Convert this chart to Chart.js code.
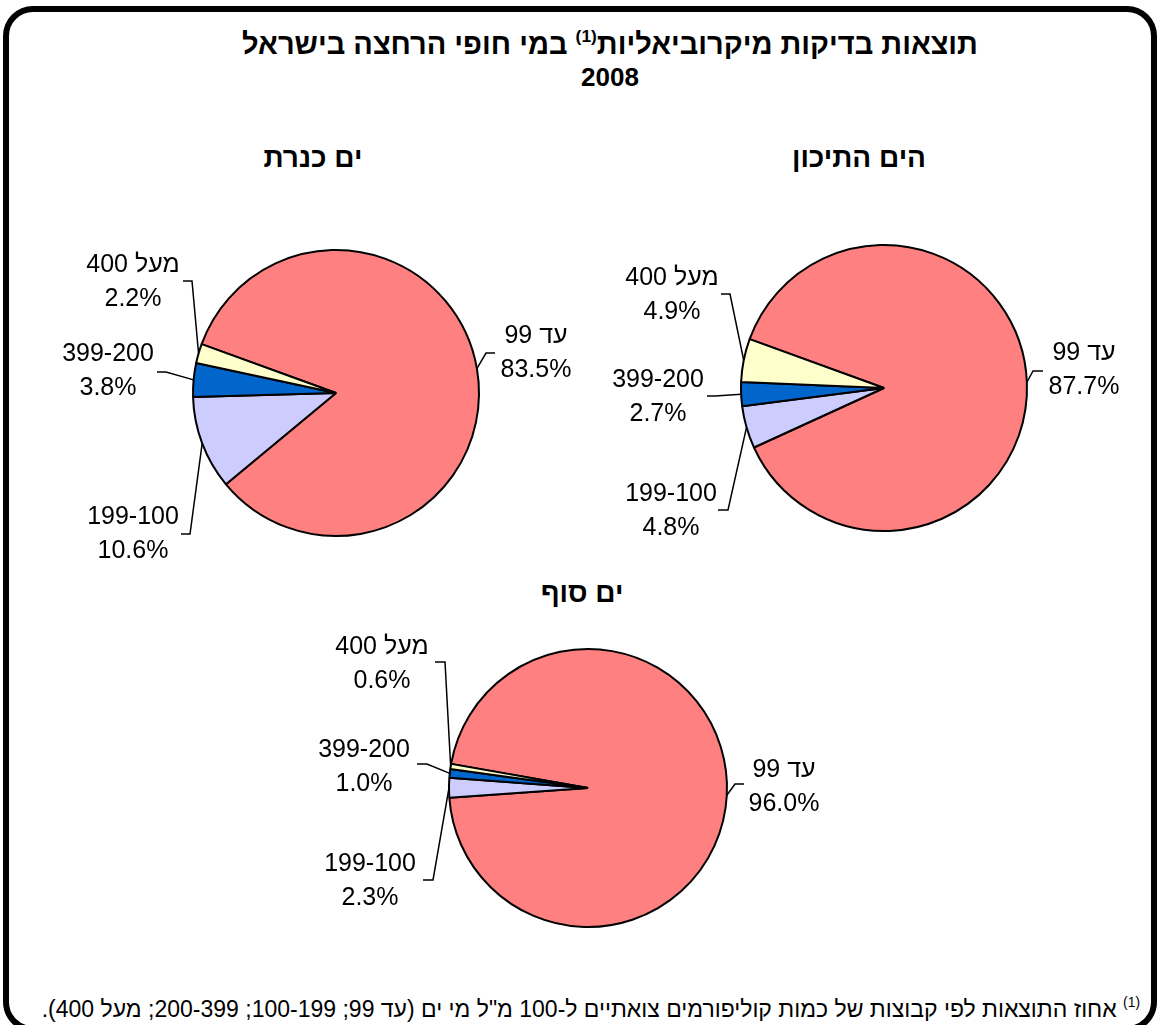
<!DOCTYPE html>
<html lang="he">
<head>
<meta charset="utf-8">
<script src="https://cdn.jsdelivr.net/npm/chart.js@4.4.1/dist/chart.umd.min.js"></script>
<style>
  html, body { margin: 0; padding: 0; background: #fff; }
  #page {
    position: relative; width: 1160px; height: 1025px; overflow: hidden;
    font-family: "Liberation Sans", Arial, sans-serif; color: #000;
  }
  #frame {
    position: absolute; left: 3px; top: 6px; width: 1142px; height: 1014px;
    border: 6px solid #000; border-radius: 30px;
  }
  canvas { position: absolute; left: 0; top: 0; pointer-events: none; }
  .t {
    position: absolute; white-space: nowrap; transform: translate(-50%, -50%);
    direction: rtl; line-height: 1;
  }
  .title { font-weight: bold; font-size: 29px; }
  .year { font-weight: bold; font-size: 26px; }
  .sub { font-weight: bold; font-size: 28px; }
  sup { font-size: 60%; vertical-align: 0; position: relative; top: -0.7em; }
  #note {
    position: absolute; right: 20px; top: 998px; direction: rtl;
    font-size: 23px; white-space: nowrap; line-height: 1;
  }
</style>
</head>
<body>
<div id="page">
  <div id="frame"></div>
  <div class="t title" style="left:610px; top:44px;">תוצאות בדיקות מיקרוביאליות<sup>(1)</sup> במי חופי הרחצה בישראל</div>
  <div class="t year" style="left:610px; top:77px;">2008</div>
  <div class="t sub" style="left:859px; top:158px;">הים התיכון</div>
  <div class="t sub" style="left:313px; top:158px;">ים כנרת</div>
  <div class="t sub" style="left:582px; top:593px;">ים סוף</div>
  <div id="note"><sup>(1)</sup> אחוז התוצאות לפי קבוצות של כמות קוליפורמים צואתיים ל-100 מ"ל מי ים (עד 99; 100-199; 200-399; מעל 400).</div>
  <canvas id="kinneret" width="1160" height="1025"></canvas>
  <canvas id="mediterranean" width="1160" height="1025"></canvas>
  <canvas id="redSea" width="1160" height="1025"></canvas>
</div>
<script>
// data (percent of samples by faecal coliforms per 100 ml)
const categories = ["עד 99", "199-100", "399-200", "מעל 400"];
const mediterranean = [87.7, 4.8, 2.7, 4.9];
const kinneret = [83.5, 10.6, 3.8, 2.2];
const redSea = [96.0, 2.3, 1.0, 0.6];

const colors = ["#FF8080", "#CCCCFF", "#0066CC", "#FFFFCC"];
const W = 1160, H = 1025;

// labels with leader lines (text block + elbow + tail)
const sliceLabels = {
  id: "sliceLabels",
  afterDraw(chart, args, opts) {
    const ctx = chart.ctx;
    const meta = chart.getDatasetMeta(0);
    const values = chart.data.datasets[0].data;
    ctx.save();
    ctx.strokeStyle = "#000";
    ctx.lineWidth = 1.5;
    ctx.fillStyle = "#000";
    ctx.font = "25px 'Liberation Sans', Arial, sans-serif";
    ctx.textAlign = "center";
    ctx.textBaseline = "alphabetic";
    ctx.direction = "rtl";
    meta.data.forEach((arc, i) => {
      const p = opts.layout[i];
      const mid = (arc.startAngle + arc.endAngle) / 2;
      const ax = arc.x + Math.cos(mid) * arc.outerRadius;
      const ay = arc.y + Math.sin(mid) * arc.outerRadius;
      ctx.beginPath();
      ctx.moveTo(ax, ay);
      ctx.lineTo(p.elbow[0], p.elbow[1]);
      ctx.lineTo(p.tail[0], p.tail[1]);
      ctx.stroke();
      ctx.fillText(chart.data.labels[i], p.x, p.y + 9);
      ctx.fillText(values[i].toFixed(1) + "%", p.x, p.y + 43);
    });
    ctx.restore();
  }
};

function makePie(id, values, cx, cy, r, rotation, layout) {
  return new Chart(document.getElementById(id), {
    type: "pie",
    data: {
      labels: categories,
      datasets: [{
        data: values,
        backgroundColor: colors,
        borderColor: "#000",
        borderWidth: 2,
        radius: r,
      }],
    },
    options: {
      responsive: false,
      animation: false,
      devicePixelRatio: 1,
      events: [],
      rotation: rotation,
      layout: {
        padding: { left: cx - 200, right: W - cx - 200, top: cy - 200, bottom: H - cy - 200 },
      },
      plugins: {
        legend: { display: false },
        tooltip: { enabled: false },
        sliceLabels: { layout: layout },
      },
    },
    plugins: [sliceLabels],
  });
}

makePie("kinneret", kinneret, 336, 393, 143, -70, [
  { x: 536, y: 334, elbow: [486, 353], tail: [495, 353] },
  { x: 133, y: 515, elbow: [190, 534], tail: [181, 534] },
  { x: 108, y: 352, elbow: [166, 372], tail: [157, 372] },
  { x: 133, y: 263, elbow: [192, 281], tail: [183, 281] },
]);

makePie("mediterranean", mediterranean, 884, 388, 143, -70, [
  { x: 1084, y: 351, elbow: [1033, 371], tail: [1043, 371] },
  { x: 671, y: 492, elbow: [728, 510], tail: [718, 510] },
  { x: 658, y: 378, elbow: [715, 396], tail: [707, 396] },
  { x: 672, y: 276, elbow: [730, 294], tail: [721, 294] },
]);

makePie("redSea", redSea, 588, 788, 139, -80, [
  { x: 784, y: 768, elbow: [735, 784], tail: [744, 784] },
  { x: 370, y: 862, elbow: [433, 880], tail: [423, 880] },
  { x: 364, y: 748, elbow: [427, 764], tail: [417, 764] },
  { x: 382, y: 645, elbow: [445, 662], tail: [435, 662] },
]);
</script>
</body>
</html>
